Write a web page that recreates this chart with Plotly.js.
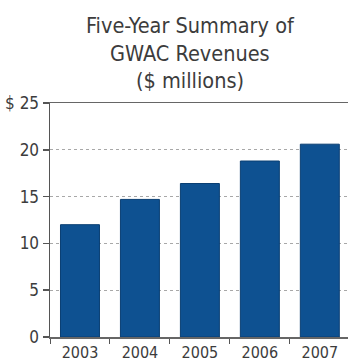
<!DOCTYPE html>
<html>
<head>
<meta charset="utf-8">
<script src="https://cdn.plot.ly/plotly-3.0.1.min.js"></script>
<style>html,body{margin:0;padding:0;background:#fff;}#chart{width:348px;height:364px;}</style>
</head>
<body>
<div id="chart"></div>
<script>
const years = ['2003', '2004', '2005', '2006', '2007'];
const revenues = [12.0, 14.7, 16.4, 18.8, 20.6];
const yTickValues = [0, 5, 10, 15, 20, 25];
const yTickLabels = ['0', '5', '10', '15', '20', '$ 25'];
const titleLines = ['Five-Year Summary of', 'GWAC Revenues', '($ millions)'];

const FONT = '"DejaVu Sans Condensed", "Liberation Sans", sans-serif';
const TEXT = '#3c3c3c';

const trace = {
  type: 'bar',
  x: years,
  y: revenues,
  marker: {color: '#0e5191', line: {color: '#0a3f73', width: 1}},
  hoverinfo: 'x+y'
};

const titleY = [1.33, 1.21, 1.095];
const annotations = titleLines.map((t, i) => ({
  text: t, xref: 'paper', yref: 'paper', x: 0.47, y: titleY[i],
  xanchor: 'center', yanchor: 'middle', showarrow: false,
  font: {family: FONT, size: 21.5, color: TEXT}
}));

const layout = {
  width: 348, height: 364,
  margin: {l: 50, r: 0, t: 103, b: 27, pad: 0},
  paper_bgcolor: '#ffffff',
  plot_bgcolor: '#ffffff',
  showlegend: false,
  bargap: 0.35,
  annotations: annotations,
  xaxis: {
    type: 'category',
    range: [-0.5, 4.47],
    showline: true, linecolor: '#666666', linewidth: 1.5,
    mirror: true,
    ticks: 'outside', tickson: 'boundaries', ticklen: 5, tickcolor: '#555555',
    showgrid: false, zeroline: false,
    tickfont: {family: FONT, size: 16, color: TEXT}
  },
  yaxis: {
    range: [0, 25],
    tickvals: yTickValues, ticktext: yTickLabels,
    showline: true, linecolor: '#555555', linewidth: 1.5,
    ticks: 'outside', ticklen: 6, tickcolor: '#555555', tickwidth: 1.5,
    showgrid: true, gridcolor: '#a8a8a8', griddash: 'dot', gridwidth: 1,
    zeroline: false,
    tickfont: {family: FONT, size: 17, color: TEXT}
  }
};

Plotly.newPlot('chart', [trace], layout, {displayModeBar: false, staticPlot: true});
</script>
</body>
</html>
